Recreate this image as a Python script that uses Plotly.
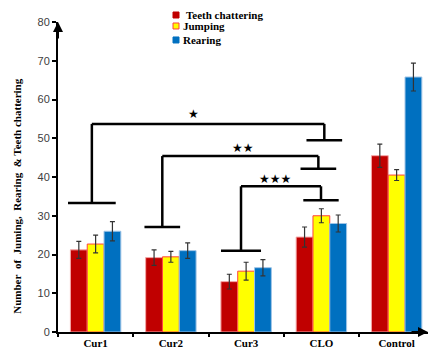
import plotly.graph_objects as go

# ---------------- data ----------------
categories = ["Cur1", "Cur2", "Cur3", "CLO", "Control"]
series_names = ["Teeth chattering", "Jumping", "Rearing"]
teeth = [21.2, 19.2, 13.0, 24.5, 45.5]
teeth_err = [2.2, 2.0, 1.9, 2.6, 3.0]
jumping = [22.7, 19.4, 15.7, 30.0, 40.5]
jumping_err = [2.3, 1.4, 2.3, 1.8, 1.4]
rearing = [26.0, 21.0, 16.6, 28.0, 65.8]
rearing_err = [2.5, 2.0, 2.1, 2.2, 3.6]
y_ticks = [0, 10, 20, 30, 40, 50, 60, 70, 80]
y_title = "Number\u00a0 of\u00a0 Juming,\u00a0 Rearing\u00a0 & Teeth chattering"

# significance brackets (category-index / value units)
sig_labels = ["★", "★★", "★★★"]
bracket_top = [53.7, 45.4, 37.6]
left_x = [-0.05, 0.886, 1.932]
left_foot_y = [33.3, 27.1, 21.0]
left_foot_half = [0.317, 0.237, 0.266]
right_x = [3.039, 2.96, 2.995]
right_foot_y = [49.5, 42.1, 34.0]
right_foot_half = [0.237, 0.237, 0.235]
label_x = [1.294, 1.952, 2.38]
label_y = [56.2, 47.5, 39.4]

fill_colors = ["#C00000", "#FFFF00", "#0070C0"]
edge_colors = ["#F4A6A6", "#FF4040", "#9DC3E6"]

SERIF = "Liberation Serif"
SANS = "Liberation Sans"

fig = go.Figure()
for name, vals, errs, fc, ec in zip(series_names, [teeth, jumping, rearing],
                                    [teeth_err, jumping_err, rearing_err],
                                    fill_colors, edge_colors):
    fig.add_trace(go.Bar(
        name=name, x=categories, y=vals,
        marker=dict(color=fc, line=dict(color=ec, width=1)),
        error_y=dict(type="data", array=errs, color="#333333", thickness=1.2, width=2.5),
        showlegend=False,
    ))

shapes = []
annotations = []
line_style = dict(color="black", width=2.5)
for i in range(len(sig_labels)):
    shapes.append(dict(type="line", xref="x", yref="y", x0=left_x[i], x1=right_x[i],
                       y0=bracket_top[i], y1=bracket_top[i], line=line_style))
    shapes.append(dict(type="line", xref="x", yref="y", x0=left_x[i], x1=left_x[i],
                       y0=bracket_top[i], y1=left_foot_y[i], line=line_style))
    shapes.append(dict(type="line", xref="x", yref="y",
                       x0=left_x[i] - left_foot_half[i], x1=left_x[i] + left_foot_half[i],
                       y0=left_foot_y[i], y1=left_foot_y[i], line=line_style))
    shapes.append(dict(type="line", xref="x", yref="y", x0=right_x[i], x1=right_x[i],
                       y0=bracket_top[i], y1=right_foot_y[i], line=line_style))
    shapes.append(dict(type="line", xref="x", yref="y",
                       x0=right_x[i] - right_foot_half[i], x1=right_x[i] + right_foot_half[i],
                       y0=right_foot_y[i], y1=right_foot_y[i], line=line_style))
    annotations.append(dict(x=label_x[i], y=label_y[i], xref="x", yref="y", text=sig_labels[i],
                            showarrow=False, font=dict(family="DejaVu Sans", size=12, color="black")))

# manual legend (compact swatch next to text)
W, H = 430, 351
ml, mr, mt, mb = 58, 2, 22, 18.5
pw, ph = W - ml - mr, H - mt - mb
legend_rows_px = [15, 26, 40]
legend_marker_px = 176
legend_text_px = [184, 181, 181]
for i, name in enumerate(series_names):
    yp = (H - mb - legend_rows_px[i]) / ph
    xm = (legend_marker_px - ml) / pw
    shapes.append(dict(type="rect", xref="paper", yref="paper", xsizemode="pixel", ysizemode="pixel",
                       xanchor=xm, yanchor=yp, x0=-3, x1=3, y0=-3, y1=3,
                       fillcolor=fill_colors[i], line=dict(color=edge_colors[i] if i == 1 else fill_colors[i], width=1)))
    annotations.append(dict(x=(legend_text_px[i] - ml) / pw, y=yp, xref="paper", yref="paper",
                            xanchor="left", yanchor="middle", text="<b>" + name + "</b>", showarrow=False,
                            font=dict(family=SERIF, size=11, color="black")))

# y-axis title as rotated annotation
annotations.append(dict(x=(17 - ml) / pw, y=(H - mb - 197) / ph, xref="paper", yref="paper",
                        xanchor="center", yanchor="middle", textangle=-90, showarrow=False,
                        text="<b>" + y_title + "</b>", font=dict(family=SERIF, size=11, color="black")))

# axis arrows
annotations.append(dict(x=0, y=1.0, xref="paper", yref="paper", text="", showarrow=True,
                        ax=0, ay=18, arrowhead=2, arrowsize=1, arrowwidth=2, arrowcolor="black"))
annotations.append(dict(x=1.0, y=0, xref="paper", yref="paper", text="", showarrow=True,
                        ax=-18, ay=0, arrowhead=2, arrowsize=1, arrowwidth=2, arrowcolor="black"))

fig.update_layout(
    width=W, height=H,
    margin=dict(l=ml, r=mr, t=mt, b=mb, pad=0, autoexpand=False),
    paper_bgcolor="white", plot_bgcolor="white",
    barmode="group", bargap=0.33, bargroupgap=0,
    shapes=shapes, annotations=annotations,
    showlegend=False,
)
fig.update_xaxes(
    type="category", range=[-0.5, 4.417], automargin=False,
    showline=True, linecolor="black", linewidth=2,
    ticks="outside", tickson="boundaries", ticklen=3, tickcolor="black", tickwidth=1.5,
    tickfont=dict(family=SERIF, size=11, color="black"),
    ticktext=["<b>" + c + "</b>" for c in categories], tickvals=categories,
    showgrid=False, zeroline=False,
)
fig.update_yaxes(
    range=[0, 80], tickvals=y_ticks, automargin=False,
    showline=True, linecolor="black", linewidth=2,
    ticks="outside", ticklen=4, tickcolor="black", tickwidth=1.5,
    tickfont=dict(family=SANS, size=11, color="#404040"),
    showgrid=False, zeroline=False,
)

fig.write_html("out.html", config={"displayModeBar": False},
               post_script="document.body.style.margin='0';document.body.style.padding='0';")
